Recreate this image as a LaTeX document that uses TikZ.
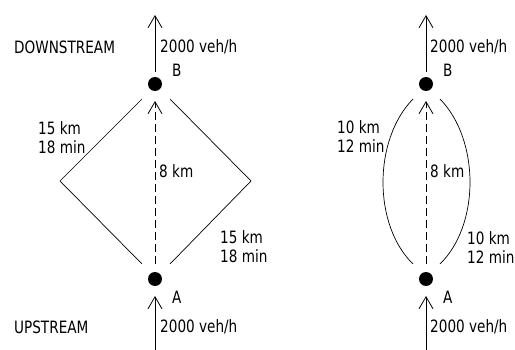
\documentclass[tikz,border=0pt]{standalone}
\usepackage{fontspec}
\setmainfont{DejaVu Sans}[FakeStretch=0.8]
\usetikzlibrary{arrows.meta}

\tikzset{
  flowarrow/.style={-{Straight Barb[length=12pt,width=14pt]}, line width=0.8pt},
  dotnode/.style={circle, fill=black, inner sep=0pt, minimum size=14pt},
  lbl/.style={anchor=west, inner sep=0pt, align=left,
    font=\fontsize{17}{19}\selectfont},
  link/.style={line width=0.7pt},
}

\begin{document}
\begin{tikzpicture}[x=1pt,y=-1pt]
\useasboundingbox (0,0) rectangle (515,350);
% left network: two routes of 15 km
\node[dotnode] (B1) at (155,84) {};
\node[dotnode] (A1) at (155,279) {};
\coordinate (top1) at (155,15);
\coordinate (bot1) at (155,350);
\coordinate (west1) at (60,181);
\coordinate (east1) at (251,181);
\draw[flowarrow] ([shift={(0,-12)}]B1.center) -- (top1);
\draw[flowarrow] (bot1) -- ([shift={(0,17)}]A1.center);
\draw[flowarrow, dash pattern=on 8pt off 4pt] ([shift={(0,-15)}]A1.center) -- ([shift={(0,17)}]B1.center);
\draw[link] ([shift={(-13,15)}]B1.center) -- (west1) -- ([shift={(-13,-15)}]A1.center);
\draw[link] ([shift={(15,15)}]B1.center) -- (east1) -- ([shift={(15,-15)}]A1.center);
\node[lbl] (down) at (14,47) {DOWNSTREAM};
\node[lbl] (up) at (14,327) {UPSTREAM};
\node[lbl] (qout1) at (160,47) {2000 veh/h};
\node[lbl] (qin1) at (160,327) {2000 veh/h};
\node[lbl] (nb1) at (172,70) {B};
\node[lbl] (na1) at (172,297) {A};
\node[lbl] (dist1) at (159,171) {8 km};
\node[lbl] (rl1) at (38,137.5) {15 km\\18 min};
\node[lbl] (rr1) at (220,247) {15 km\\18 min};
% right network: two routes of 10 km
\node[dotnode] (B2) at (426,84) {};
\node[dotnode] (A2) at (426,279) {};
\coordinate (top2) at (426,15);
\coordinate (bot2) at (426,350);
\draw[flowarrow] ([shift={(0,-12)}]B2.center) -- (top2);
\draw[flowarrow] (bot2) -- ([shift={(0,17)}]A2.center);
\draw[flowarrow, dash pattern=on 8pt off 4pt] ([shift={(0,-15)}]A2.center) -- ([shift={(0,17)}]B2.center);
\draw[link] ([shift={(-13,15)}]B2.center) .. controls (373,140) and (373,225) .. ([shift={(-13,-15)}]A2.center);
\draw[link] ([shift={(14,15)}]B2.center) .. controls (480,140) and (480,225) .. ([shift={(14,-15)}]A2.center);
\node[lbl] (qout2) at (430,47) {2000 veh/h};
\node[lbl] (qin2) at (430,327) {2000 veh/h};
\node[lbl] (nb2) at (443,70) {B};
\node[lbl] (na2) at (443,297) {A};
\node[lbl] (dist2) at (430,171) {8 km};
\node[lbl] (rl2) at (337,137) {10 km\\12 min};
\node[lbl] (rr2) at (467,248) {10 km\\12 min};
\end{tikzpicture}
\end{document}
